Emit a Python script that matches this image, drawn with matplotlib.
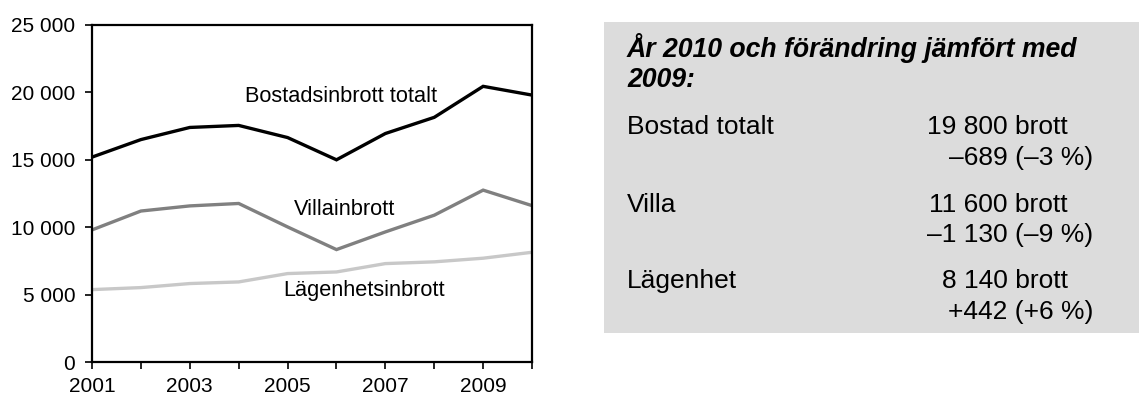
import matplotlib
matplotlib.use("Agg")
import matplotlib.pyplot as plt
from matplotlib.patches import Rectangle
from matplotlib.ticker import FuncFormatter

plt.rcParams["font.family"] = ["Liberation Sans", "DejaVu Sans"]

# Data
years = [2001, 2002, 2003, 2004, 2005, 2006, 2007, 2008, 2009, 2010]
bostad = [15200, 16500, 17400, 17550, 16650, 15000, 16950, 18150, 20450, 19800]
villa = [9800, 11200, 11580, 11760, 10020, 8340, 9650, 10890, 12750, 11600]
lagenhet = [5370, 5520, 5820, 5940, 6560, 6680, 7300, 7430, 7700, 8140]

series_names = ["Bostadsinbrott totalt", "Villainbrott", "Lägenhetsinbrott"]
series_colors = ["#000000", "#808080", "#c8c8c8"]

box_title = "År 2010 och förändring jämfört med\n2009:"
box_rows = ["Bostad totalt", "Villa", "Lägenhet"]
box_counts = ["19 800 brott", "11 600 brott", "8 140 brott"]
box_changes = ["–689 (–3 %)", "–1 130 (–9 %)", "+442 (+6 %)"]

fig = plt.figure(figsize=(11.39, 4), dpi=100)
ax = fig.add_axes([0.0808, 0.095, 0.3863, 0.8425])

for vals, col in zip([bostad, villa, lagenhet], series_colors):
    ax.plot(years, vals, color=col, lw=2.4, solid_joinstyle="miter")

ax.set_xlim(2001, 2010)
ax.set_ylim(0, 25000)
ax.set_yticks(range(0, 25001, 5000))
ax.yaxis.set_major_formatter(FuncFormatter(lambda v, p: f"{int(v):,}".replace(",", " ")))
ax.set_xticks(years)
ax.set_xticklabels([str(y) if y % 2 == 1 else "" for y in years])
for s in ax.spines.values():
    s.set_linewidth(1.6)
ax.tick_params(axis="both", direction="out", length=5, width=1.2, labelsize=15)
ax.tick_params(axis="y", pad=7)
ax.tick_params(axis="x", pad=5.5)

# Line labels
ax.text(2006.09, 19660, series_names[0], ha="center", va="center", fontsize=15.7)
ax.text(2006.17, 11276, series_names[1], ha="center", va="center", fontsize=15.7)
ax.text(2006.56, 5341, series_names[2], ha="center", va="center", fontsize=15.7)

# Info box on the right
fig.patches.append(Rectangle((604 / 1139, 1 - 333 / 400), 1 - 604 / 1139, (333 - 22) / 400,
                             transform=fig.transFigure, facecolor="#dcdcdc", edgecolor="none"))
x_left = 627 / 1139
fig.text(x_left, 1 - 56.7 / 400, box_title.split("\n")[0], fontsize=19.2,
         fontweight="bold", fontstyle="italic", va="baseline")
fig.text(x_left, 1 - 86.7 / 400, box_title.split("\n")[1], fontsize=19.2,
         fontweight="bold", fontstyle="italic", va="baseline")

row_base = [134, 211.7, 288.3]
for name, cnt, chg, b in zip(box_rows, box_counts, box_changes, row_base):
    fig.text(x_left, 1 - b / 400, name, fontsize=19, va="baseline")
    fig.text(1068 / 1139, 1 - b / 400, cnt, fontsize=19, va="baseline", ha="right")
    fig.text(1093 / 1139, 1 - (b + 30.5) / 400, chg, fontsize=19, va="baseline", ha="right")

fig.savefig("out.png", dpi=100)
